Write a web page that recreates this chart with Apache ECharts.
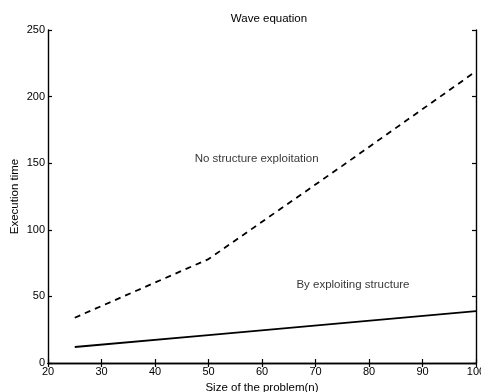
<!DOCTYPE html>
<html>
<head>
<meta charset="utf-8">
<script src="https://cdn.jsdelivr.net/npm/echarts@6/dist/echarts.min.js"></script>
<style>
  html, body { margin: 0; padding: 0; background: #fff; }
  #chart { width: 481px; height: 392px; }
</style>
</head>
<body>
<div id="chart"></div>
<script>
// problem sizes (n)
const sizes = [25, 50, 75, 100];
// execution time, no structure exploitation (dashed)
const noStructure = [34, 78, 148, 219];
// execution time, exploiting structure (solid)
const withStructure = [12, 21, 30, 39];
// in-plot labels, placed in data coordinates
const notes = [
  { text: 'No structure exploitation', x: 59, y: 153 },
  { text: 'By exploiting structure', x: 77, y: 59 }
];

const font = 'Liberation Sans, Arial, Helvetica, sans-serif';
const textStyle = { fontFamily: font, fontSize: 11.5, color: '#000' };
const chart = echarts.init(document.getElementById('chart'));

const axisBase = {
  type: 'value',
  axisLine: { show: true, lineStyle: { color: '#000', width: 1.4 } },
  axisTick: { show: true, inside: true, length: 4, lineStyle: { color: '#000', width: 1.2 } },
  splitLine: { show: false }
};

chart.setOption({
  animation: false,
  backgroundColor: '#fff',
  title: {
    text: 'Wave equation',
    left: 264,
    top: 8,
    textAlign: 'center',
    textStyle: Object.assign({ fontWeight: 'normal' }, textStyle)
  },
  grid: { left: 48, right: 5, top: 30, bottom: 29, outerBoundsMode: 'none', containLabel: false },
  xAxis: [
    Object.assign({}, axisBase, {
      position: 'bottom',
      min: 20, max: 100, interval: 10,
      name: 'Size of the problem(n)',
      nameLocation: 'middle',
      nameGap: 19,
      nameMoveOverlap: false,
      nameTextStyle: textStyle,
      axisLabel: Object.assign({ margin: 3 }, textStyle, { fontSize: 11 })
    }),
    Object.assign({}, axisBase, {
      position: 'top',
      min: 20, max: 100, interval: 10,
      axisLabel: { show: false }
    })
  ],
  yAxis: [
    Object.assign({}, axisBase, {
      position: 'left',
      min: 0, max: 250, interval: 50,
      name: 'Execution time',
      nameLocation: 'middle',
      nameGap: 27,
      nameMoveOverlap: false,
      nameTextStyle: textStyle,
      axisLabel: Object.assign({ margin: 3 }, textStyle, { fontSize: 11 })
    }),
    Object.assign({}, axisBase, {
      position: 'right',
      min: 0, max: 250, interval: 50,
      axisLabel: { show: false }
    })
  ],
  series: [
    {
      name: 'No structure exploitation',
      type: 'line',
      data: sizes.map((n, i) => [n, noStructure[i]]),
      symbol: 'none',
      lineStyle: { color: '#000', width: 1.8, type: [6, 5] }
    },
    {
      name: 'By exploiting structure',
      type: 'line',
      data: sizes.map((n, i) => [n, withStructure[i]]),
      symbol: 'none',
      lineStyle: { color: '#000', width: 1.8 }
    },
    {
      name: 'notes',
      type: 'scatter',
      data: notes.map(d => ({ name: d.text, value: [d.x, d.y] })),
      symbolSize: 0,
      itemStyle: { color: '#000' },
      label: Object.assign({ show: true, position: 'inside', formatter: p => p.name, textBorderWidth: 0 }, textStyle),
      silent: true
    }
  ]
});
</script>
</body>
</html>
